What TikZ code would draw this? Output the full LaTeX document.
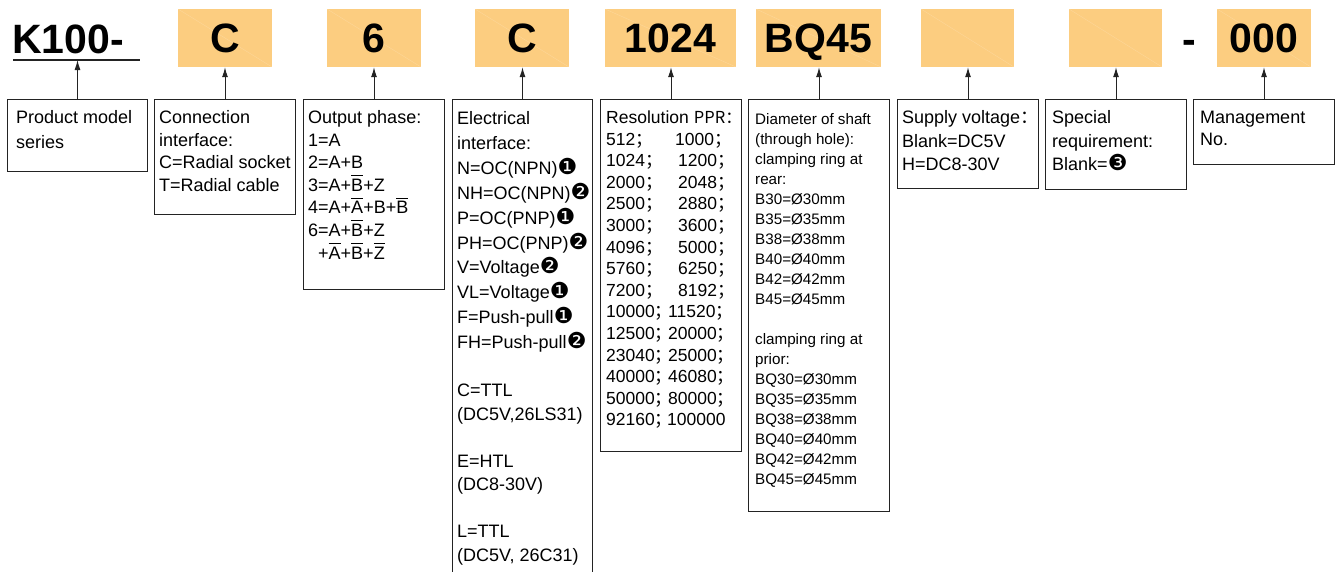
\documentclass[tikz,border=0pt]{standalone}
\usepackage{fontspec}
\setmainfont{Liberation Sans}
\newfontfamily\dvfont{DejaVu Sans}
\newfontfamily\cjk{Noto Sans CJK SC}
\usetikzlibrary{arrows.meta}
\definecolor{codefill}{RGB}{252,205,128}
\definecolor{edgegray}{RGB}{35,35,35}
\newsavebox\olbox
\newcommand\ol[1]{\sbox\olbox{#1}\rlap{\rule[0.84em]{\wd\olbox}{1.1pt}}\usebox\olbox}
\newcommand\cone{{\dvfont\fontsize{22}{22}\selectfont ❶}}
\newcommand\ctwo{{\dvfont\fontsize{22}{22}\selectfont ❷}}
\newcommand\cthree{{\dvfont\fontsize{22}{22}\selectfont ❸}}
\newcommand\rw[3]{\makebox[#1pt][l]{#2{\cjk ；}}#3{\cjk ；}}
\begin{document}
\begin{tikzpicture}[x=1pt,y=-1pt,
  codebox/.style={fill=codefill, inner sep=0pt, minimum height=58pt, text height=29.5pt, text depth=0pt,
    font=\fontsize{41}{41}\selectfont\bfseries,
    path picture={\draw[white,opacity=0.2,line width=0.4pt] (path picture bounding box.north west) -- (path picture bounding box.south east);}},
  descbox/.style={draw=edgegray, line width=1pt, inner sep=0pt, anchor=north west},
  desctext/.style={anchor=base west, inner sep=0pt},
  arr/.style={draw=edgegray, line width=1pt, -{Latex[length=10pt,width=6pt]}}]
\useasboundingbox (0,0) rectangle (1335,571);

% code line
\node[anchor=base west, inner sep=0pt, font=\fontsize{41}{41}\selectfont\bfseries] (k100) at (12,53) {K100-};
\coordinate (ul) at (13,60);
\coordinate (ur) at (140,60);
\coordinate (um) at (76.5,60);
\draw[edgegray, line width=1.3pt] (ul) -- (ur);

\node[codebox, minimum width=94pt] (c2) at (225,38) {C};
\node[codebox, minimum width=94pt] (c3) at (374,38) {6};
\node[codebox, minimum width=94pt] (c4) at (522,38) {C};
\node[codebox, minimum width=131pt] (c5) at (670.5,38) {1024};
\node[codebox, minimum width=125pt] (c6) at (818.5,38) {BQ45};
\node[codebox, minimum width=93pt] (c7) at (967.5,38) {};
\node[codebox, minimum width=93pt] (c8) at (1115.5,38) {};
\node[codebox, minimum width=94pt] (c9) at (1264,38) {000};
\node[anchor=base, inner sep=0pt, font=\fontsize{41}{41}\selectfont\bfseries] (dash) at (1189,53) {-};

% description boxes
\node[descbox, minimum width=140pt, minimum height=72pt] (d1) at (7,99) {};
\node[descbox, minimum width=141pt, minimum height=115pt] (d2) at (154,99) {};
\node[descbox, minimum width=141pt, minimum height=190pt] (d3) at (303,99) {};
\node[descbox, minimum width=140pt, minimum height=480pt] (d4) at (452,99) {};
\node[descbox, minimum width=141pt, minimum height=352pt] (d5) at (600,99) {};
\node[descbox, minimum width=141pt, minimum height=412pt] (d6) at (748,99) {};
\node[descbox, minimum width=141pt, minimum height=89pt] (d7) at (897,99) {};
\node[descbox, minimum width=141pt, minimum height=90pt] (d8) at (1045,99) {};
\node[descbox, minimum width=141pt, minimum height=65pt] (d9) at (1193,99) {};

% arrows
\draw[arr] (d1.north) -- (d1.north |- um);
\draw[arr] (d2.north) -- (d2.north |- c2.south);
\draw[arr] (d3.north) -- (d3.north |- c3.south);
\draw[arr] (d4.north) -- (d4.north |- c4.south);
\draw[arr] (d5.north) -- (d5.north |- c5.south);
\draw[arr] (d6.north) -- (d6.north |- c6.south);
\draw[arr] (d7.north) -- (d7.north |- c7.south);
\draw[arr] (d8.north) -- (d8.north |- c8.south);
\draw[arr] (d9.north) -- (d9.north |- c9.south);

% texts
\node[desctext] (t1) at (16,123.5) {\parbox[t]{135pt}{\fontsize{18}{24.5}\selectfont
Product model\\ series}};
\node[desctext] (t2) at (159,123.5) {\parbox[t]{138pt}{\fontsize{18}{22.5}\selectfont
Connection\\ interface:\\ C=Radial socket\\ T=Radial cable}};
\node[desctext] (t3) at (308,123.5) {\parbox[t]{138pt}{\fontsize{18}{22.6}\selectfont
Output phase:\\ 1=A\\ 2=A+B\\ 3=A+\ol{B}+Z\\ 4=A+\ol{A}+B+\ol{B}\\ 6=A+\ol{B}+Z\\ \hspace*{10pt}+\ol{A}+\ol{B}+\ol{Z}}};
\node[desctext] (t4) at (457,124.5) {\parbox[t]{138pt}{\fontsize{18}{24.9}\selectfont
Electrical\\ interface:\\ N=OC(NPN)\cone\\ NH=OC(NPN)\ctwo\\ P=OC(PNP)\cone\\ PH=OC(PNP)\ctwo\\ V=Voltage\ctwo\\ VL=Voltage\cone\\ F=Push-pull\cone\\ FH=Push-pull\ctwo\par
\vspace{24.5pt}\fontsize{18}{23.5}\selectfont
C=TTL\\ (DC5V,26LS31)\\[23.5pt] E=HTL\\ (DC8-30V)\\[23.5pt] L=TTL\\ (DC5V, 26C31)}};
\node[desctext] (t5) at (606,123.5) {\parbox[t]{138pt}{\fontsize{17.5}{21.6}\selectfont
Resolution\hspace{5pt}{\cjk\fontsize{16.5}{16.5}\selectfont PPR：}\\
\rw{69}{512}{1000}\\
\rw{72}{1024}{1200}\\
\rw{72}{2000}{2048}\\
\rw{72}{2500}{2880}\\
\rw{72}{3000}{3600}\\
\rw{72}{4096}{5000}\\
\rw{72}{5760}{6250}\\
\rw{72}{7200}{8192}\\
\rw{62}{10000}{11520}\\
\rw{62}{12500}{20000}\\
\rw{62}{23040}{25000}\\
\rw{62}{40000}{46080}\\
\rw{62}{50000}{80000}\\
\makebox[61pt][l]{92160{\cjk ；}}100000}};
\node[desctext] (t6) at (755,124.5) {\parbox[t]{135pt}{\fontsize{15.2}{20}\selectfont
Diameter of shaft\\ (through hole):\\ clamping ring at\\ rear:\\
B30=Ø30mm\\ B35=Ø35mm\\ B38=Ø38mm\\ B40=Ø40mm\\ B42=Ø42mm\\ B45=Ø45mm\\[20pt]
clamping ring at\\ prior:\\
BQ30=Ø30mm\\ BQ35=Ø35mm\\ BQ38=Ø38mm\\ BQ40=Ø40mm\\ BQ42=Ø42mm\\ BQ45=Ø45mm}};
\node[desctext] (t7) at (902,123.5) {\parbox[t]{138pt}{\fontsize{18}{23.5}\selectfont
Supply voltage{\cjk ：}\\ Blank=DC5V\\ H=DC8-30V}};
\node[desctext] (t8) at (1052,123.5) {\parbox[t]{135pt}{\fontsize{18}{23.5}\selectfont
Special\\ requirement:\\ Blank=\cthree}};
\node[desctext] (t9) at (1200,123.5) {\parbox[t]{135pt}{\fontsize{18}{22}\selectfont
Management\\ No.}};
\end{tikzpicture}
\end{document}
